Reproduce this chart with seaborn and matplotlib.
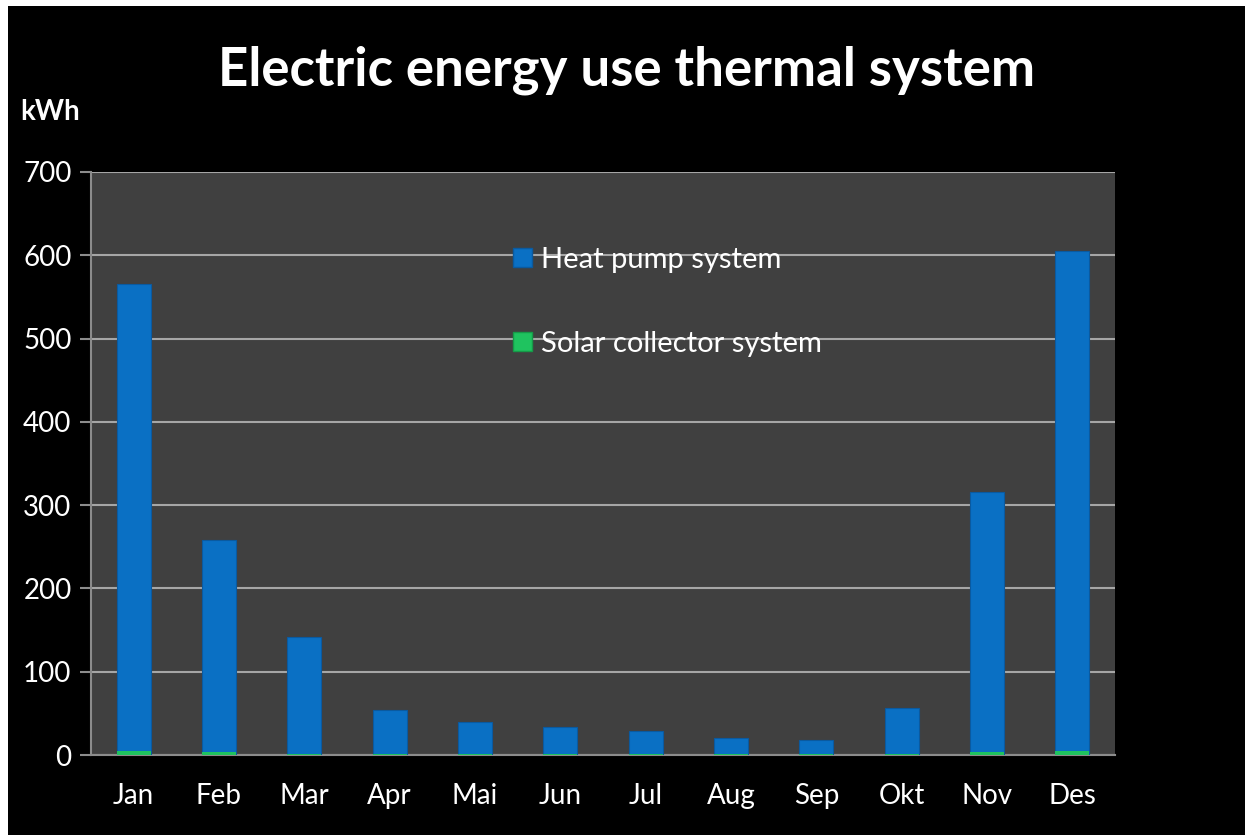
import matplotlib
matplotlib.use('Agg')
import matplotlib.pyplot as plt
from matplotlib.patches import Patch, Rectangle
import seaborn as sns
import numpy as np

# Datos (kWh por mes)
months = ['Jan', 'Feb', 'Mar', 'Apr', 'Mai', 'Jun', 'Jul', 'Aug', 'Sep', 'Okt', 'Nov', 'Des']
solar_collector = [5, 4, 1, 1, 1, 1, 1, 1, 1, 1, 4, 5]
heat_pump = [561, 254, 141, 53, 39, 33, 28, 19, 17, 55, 312, 600]

title = 'Electric energy use thermal system'
unit_label = 'kWh'
y_ticks = [0, 100, 200, 300, 400, 500, 600, 700]

blue = '#0a70c4'
green = '#1fc35f'
font = ['Lato', 'DejaVu Sans']

sns.set_style('dark')
plt.rcParams['font.family'] = font

fig = plt.figure(figsize=(12.45, 8.35), dpi=100, facecolor='white')
# borde blanco arriba / izquierda
fig.patches.append(Rectangle((8 / 1245, 0), 1, 1 - 6 / 835, transform=fig.transFigure,
                             facecolor='black', edgecolor='none', zorder=-10))

ax = fig.add_axes([91 / 1245, 1 - 755 / 835, (1115 - 91) / 1245, (755 - 172) / 835])
ax.set_facecolor('#404040')

total = np.array(heat_pump) + np.array(solar_collector)
sns.barplot(x=months, y=total, color=blue, width=0.4, saturation=1,
            edgecolor='#0a5aa0', linewidth=0.8, ax=ax, zorder=3)
sns.barplot(x=months, y=solar_collector, color=green, width=0.4, saturation=1,
            linewidth=0, ax=ax, zorder=4)

ax.set_ylim(0, 700)
ax.set_xlim(-0.5, len(months) - 0.5)
ax.set_yticks(y_ticks)
ax.yaxis.grid(True, color='#a6a6a6', linewidth=1.5, zorder=0)
ax.xaxis.grid(False)
ax.set_axisbelow(True)

for side in ['top', 'right']:
    ax.spines[side].set_visible(False)
for side in ['left', 'bottom']:
    ax.spines[side].set_visible(True)
    ax.spines[side].set_color('#8c8c8c')
    ax.spines[side].set_linewidth(1.5)

ax.set_xticks(np.arange(-0.5, len(months)), minor=True)
ax.tick_params(axis='x', which='major', length=0, pad=20, labelsize=20, colors='white')
ax.tick_params(axis='x', which='minor', length=8, width=1.5, color='#8c8c8c', direction='out')
ax.tick_params(axis='y', which='major', length=8, width=1.5, color='#8c8c8c', direction='out',
               left=True, pad=6, labelsize=20, labelcolor='white')
ax.set_xlabel('')
ax.set_ylabel('')

fig.text(627 / 1245, 1 - 70 / 835, title, ha='center', va='center', color='white',
         fontsize=38, fontweight='bold', family=font)
fig.text(20 / 1245, 1 - 112 / 835, unit_label, ha='left', va='center', color='white',
         fontsize=20, fontweight='bold', family=font)

handles = [Patch(facecolor=blue, edgecolor='#0a5aa0', label='Heat pump system'),
           Patch(facecolor=green, edgecolor='#159a48', label='Solar collector system')]
leg = ax.legend(handles=handles, loc='upper left', bbox_to_anchor=(0.401, 0.892),
                frameon=False, fontsize=21, labelspacing=2.0, handlelength=0.65,
                handleheight=0.65, handletextpad=0.3, borderaxespad=0)
for t in leg.get_texts():
    t.set_color('white')

fig.savefig('out.png', dpi=100, facecolor=fig.get_facecolor())
